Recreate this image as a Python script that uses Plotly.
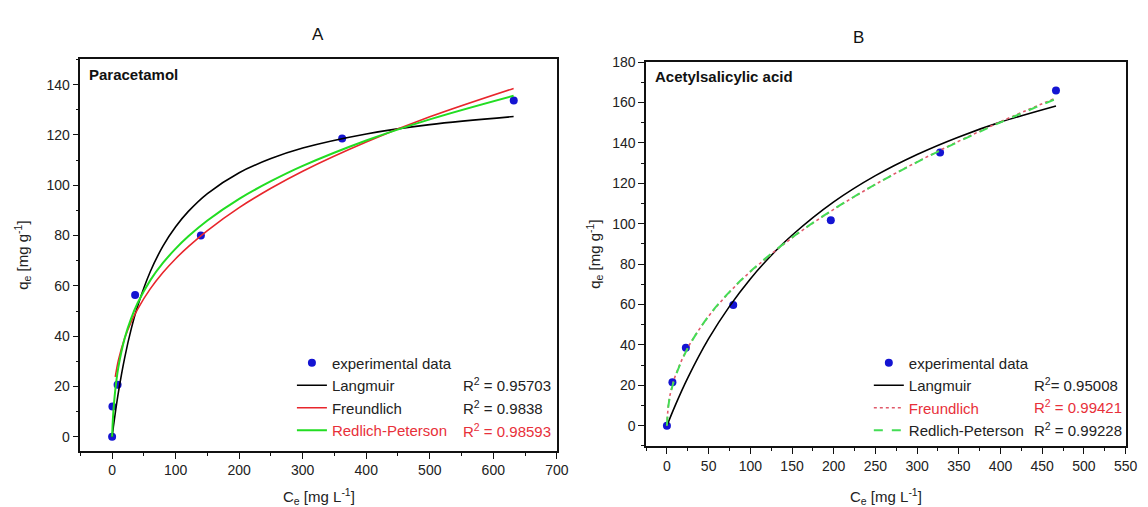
import plotly.graph_objects as go

W, H = 1148, 507
FONT = "Liberation Sans, Arial, sans-serif"

# ---------------- Panel A : Paracetamol ----------------
A_exp_C = [0, 0.5, 8.6, 36.2, 139.7, 362.1, 632.2]
A_exp_q = [0, 12.0, 20.7, 56.4, 80.0, 118.6, 133.7]

A_lang_C = [0, 2, 5, 10, 20, 30, 40, 60, 80, 100, 120, 150, 200, 250, 300, 400, 500, 632]
A_lang_q = [0, 4.0, 9.5, 17.9, 31.7, 42.8, 51.8, 65.6, 75.8, 83.5, 89.6, 96.7, 105.0, 110.6, 114.8, 120.4, 124.1, 127.3]

A_freu_C = [5, 10, 20, 30, 40, 60, 80, 100, 120, 150, 200, 250, 300, 400, 500, 632]
A_freu_q = [23.8, 30.6, 39.4, 45.7, 50.7, 58.8, 65.3, 70.8, 75.6, 82.0, 91.1, 98.8, 105.6, 117.2, 127.2, 138.5]

A_rp_C = [0, 1, 2, 5, 10, 20, 30, 40, 60, 80, 100, 120, 150, 200, 250, 300, 400, 500, 632]
A_rp_q = [0, 5.9, 10.1, 18.7, 27.9, 39.4, 47.1, 53.1, 62.2, 69.1, 74.8, 79.7, 86.0, 94.6, 101.6, 107.7, 117.8, 126.2, 135.6]

A_r2 = ["0.95703", "0.9838", "0.98593"]

# ---------------- Panel B : Acetylsalicylic acid ----------------
B_exp_C = [0, 6.6, 22.7, 79.5, 196.5, 327.5, 466.5]
B_exp_q = [0, 21.5, 38.6, 59.8, 101.7, 135.3, 165.9]

B_lang_C = [0, 10, 25, 50, 75, 100, 125, 150, 200, 250, 300, 350, 400, 466.5]
B_lang_q = [0, 10.1, 23.7, 43.1, 59.1, 72.7, 84.3, 94.3, 110.8, 123.8, 134.3, 143.0, 150.3, 158.3]

B_fit_C = [0, 2, 5, 10, 25, 50, 75, 100, 150, 200, 250, 300, 350, 400, 466.5]
B_freu_q = [0, 11.2, 17.5, 24.6, 38.6, 54.2, 66.1, 76.2, 93.0, 107.1, 119.5, 130.6, 140.9, 150.5, 162.3]
B_rp_q = [0, 10.5, 17.0, 24.2, 38.4, 54.3, 66.3, 76.4, 93.2, 107.2, 119.5, 130.5, 140.7, 150.2, 161.8]

B_r2 = ["0.95008", "0.99421", "0.99228"]

BLUE = "#1414d2"
RED = "#e8262c"
GREEN = "#22dd22"
RED_TXT = "#e8303a"
PINK_DOT = "#e05a6a"
GREEN_DASH = "#44dd55"

fig = go.Figure()

# Panel A traces
fig.add_trace(go.Scatter(x=A_exp_C, y=A_exp_q, mode="markers", name="experimental data",
                         marker=dict(color=BLUE, size=8), xaxis="x", yaxis="y", legend="legend"))
fig.add_trace(go.Scatter(x=A_lang_C, y=A_lang_q, mode="lines", name="Langmuir",
                         line=dict(color="black", width=1.6, shape="spline"), xaxis="x", yaxis="y", legend="legend"))
fig.add_trace(go.Scatter(x=A_freu_C, y=A_freu_q, mode="lines", name="Freundlich",
                         line=dict(color=RED, width=1.6, shape="spline"), xaxis="x", yaxis="y", legend="legend"))
fig.add_trace(go.Scatter(x=A_rp_C, y=A_rp_q, mode="lines",
                         name=f"<span style='color:{RED_TXT}'>Redlich-Peterson</span>",
                         line=dict(color=GREEN, width=2, shape="spline"), xaxis="x", yaxis="y", legend="legend"))

# Panel B traces
fig.add_trace(go.Scatter(x=B_exp_C, y=B_exp_q, mode="markers", name="experimental data",
                         marker=dict(color=BLUE, size=8), xaxis="x2", yaxis="y2", legend="legend2"))
fig.add_trace(go.Scatter(x=B_lang_C, y=B_lang_q, mode="lines", name="Langmuir",
                         line=dict(color="black", width=1.6, shape="spline"), xaxis="x2", yaxis="y2", legend="legend2"))
fig.add_trace(go.Scatter(x=B_fit_C, y=B_freu_q, mode="lines",
                         name=f"<span style='color:{RED_TXT}'>Freundlich</span>",
                         line=dict(color=PINK_DOT, width=1.6, dash="dot", shape="spline"), xaxis="x2", yaxis="y2", legend="legend2"))
fig.add_trace(go.Scatter(x=B_fit_C, y=B_rp_q, mode="lines", name="Redlich-Peterson",
                         line=dict(color=GREEN_DASH, width=2, dash="dash", shape="spline"), xaxis="x2", yaxis="y2", legend="legend2"))


def px(x):
    return x / W


def py(y):
    return 1 - y / H


axis_common = dict(showline=True, linecolor="#111", linewidth=1.5, mirror=True,
                   ticks="outside", ticklen=6, tickwidth=1.2, tickcolor="#111",
                   showgrid=False, zeroline=False,
                   tickfont=dict(family=FONT, size=14, color="#222"))

fig.update_layout(
    width=W, height=H, autosize=False,
    margin=dict(l=0, r=0, t=0, b=0),
    paper_bgcolor="white", plot_bgcolor="white",
    font=dict(family=FONT, size=14, color="#222"),
    xaxis=dict(domain=[px(81.2), px(562.7)], range=[-50, 700], tick0=0, dtick=100,
               minor=dict(ticks="outside", ticklen=3, dtick=50, tick0=0, tickcolor="#111"),
               anchor="y", **axis_common),
    yaxis=dict(domain=[py(450), py(52.3)], range=[-5.6, 150], tick0=0, dtick=20,
               minor=dict(ticks="outside", ticklen=3, dtick=10, tick0=0, tickcolor="#111"),
               anchor="x", **axis_common),
    xaxis2=dict(domain=[px(652.9), px(1137.5)], range=[-25, 550], tick0=0, dtick=50,
                minor=dict(ticks="outside", ticklen=3, dtick=25, tick0=0, tickcolor="#111"),
                anchor="y2", **axis_common),
    yaxis2=dict(domain=[py(445), py(55)], range=[-10, 180], tick0=0, dtick=20,
                minor=dict(ticks="outside", ticklen=3, dtick=10, tick0=0, tickcolor="#111"),
                anchor="x2", **axis_common),
    legend=dict(x=px(295), y=py(344), xanchor="left", yanchor="top",
                bgcolor="rgba(0,0,0,0)", font=dict(family=FONT, size=15, color="#222"),
                tracegroupgap=0, itemwidth=30),
    legend2=dict(x=px(878), y=py(344), xanchor="left", yanchor="top",
                 bgcolor="rgba(0,0,0,0)", font=dict(family=FONT, size=15, color="#222"),
                 tracegroupgap=0, itemwidth=30),
)

ann = []
# panel titles
ann.append(dict(text="A", x=px(321), y=py(27), xref="paper", yref="paper", showarrow=False,
                font=dict(family=FONT, size=17, color="#111"), xanchor="center", yanchor="middle"))
ann.append(dict(text="B", x=px(868), y=py(30), xref="paper", yref="paper", showarrow=False,
                font=dict(family=FONT, size=17, color="#111"), xanchor="center", yanchor="middle"))
# compound labels
ann.append(dict(text="<b>Paracetamol</b>", x=px(88), y=py(68), xref="paper", yref="paper", showarrow=False,
                font=dict(family=FONT, size=15, color="#111"), xanchor="left", yanchor="middle"))
ann.append(dict(text="<b>Acetylsalicylic acid</b>", x=px(660), y=py(70), xref="paper", yref="paper", showarrow=False,
                font=dict(family=FONT, size=15, color="#111"), xanchor="left", yanchor="middle"))
# axis titles
xt = "C<sub>e</sub> [mg L<sup>-1</sup>]"
yt = "q<sub>e</sub> [mg g<sup>-1</sup>]"
ann.append(dict(text=xt, x=px(322), y=py(496), xref="paper", yref="paper", showarrow=False,
                font=dict(family=FONT, size=15, color="#222"), xanchor="center", yanchor="middle"))
ann.append(dict(text=xt, x=px(895), y=py(496), xref="paper", yref="paper", showarrow=False,
                font=dict(family=FONT, size=15, color="#222"), xanchor="center", yanchor="middle"))
ann.append(dict(text=yt, x=px(22), y=py(251), xref="paper", yref="paper", showarrow=False, textangle=-90,
                font=dict(family=FONT, size=15, color="#222"), xanchor="center", yanchor="middle"))
ann.append(dict(text=yt, x=px(600), y=py(250), xref="paper", yref="paper", showarrow=False, textangle=-90,
                font=dict(family=FONT, size=15, color="#222"), xanchor="center", yanchor="middle"))
# R^2 columns
rowsA = [383, 406, 429]
for i, (v, yy) in enumerate(zip(A_r2, rowsA)):
    col = RED_TXT if i == 2 else "#222"
    ann.append(dict(text=f"R<sup>2</sup> = {v}", x=px(466), y=py(yy), xref="paper", yref="paper",
                    showarrow=False, xanchor="left", yanchor="middle",
                    font=dict(family=FONT, size=15, color=col)))
rowsB = [383, 405, 428]
for i, (v, yy) in enumerate(zip(B_r2, rowsB)):
    col = RED_TXT if i == 1 else "#222"
    sep = "= " if i == 0 else " = "
    ann.append(dict(text=f"R<sup>2</sup>{sep}{v}", x=px(1043), y=py(yy), xref="paper", yref="paper",
                    showarrow=False, xanchor="left", yanchor="middle",
                    font=dict(family=FONT, size=15, color=col)))

fig.update_layout(annotations=ann)

fig.write_html("out.html")
